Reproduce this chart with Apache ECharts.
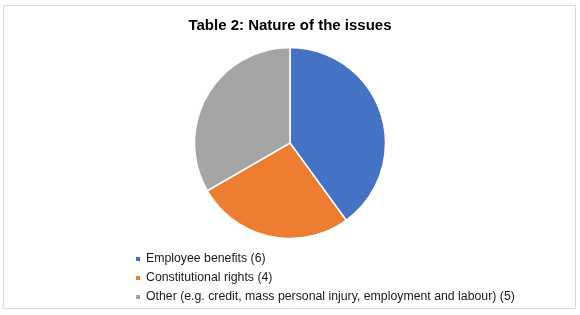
<!DOCTYPE html>
<html><head><meta charset="utf-8">
<script src="https://cdn.jsdelivr.net/npm/echarts@6/dist/echarts.min.js"></script>
<style>html,body{margin:0;padding:0;background:#fff}#c{width:580px;height:315px}</style>
</head><body><div id="c"></div>
<script>
var categories = ["Employee benefits (6)", "Constitutional rights (4)", "Other (e.g. credit, mass personal injury, employment and labour) (5)"];
var values = [6, 4, 5];
var colors = ["#4472C4", "#ED7D31", "#A5A5A5"];
var chart = echarts.init(document.getElementById('c'), null, {renderer: 'canvas'});
chart.setOption({
  animation: false,
  backgroundColor: '#fff',
  graphic: [{type: 'rect', shape: {x: 3.5, y: 5.5, width: 572, height: 303}, style: {fill: 'none', stroke: '#d9d9d9', lineWidth: 1}, z: -1}],
  title: {text: 'Table 2: Nature of the issues', left: 'center', top: 13,
    textStyle: {fontFamily: 'Liberation Sans, Arial', fontSize: 15, fontWeight: 'bold', color: '#000'}},
  legend: {orient: 'vertical', left: 129, top: 248, icon: 'rect', itemWidth: 6, itemHeight: 6, itemGap: 7,
    textStyle: {fontFamily: 'Liberation Sans, Arial', fontSize: 12.3, color: '#1a1a1a'},
    data: categories},
  series: [{type: 'pie', center: [290, 143], radius: 95.5, startAngle: 90, clockwise: true,
    label: {show: false}, labelLine: {show: false},
    itemStyle: {borderColor: '#fff', borderWidth: 1.5},
    data: categories.map(function (n, i) { return {name: n, value: values[i], itemStyle: {color: colors[i]}}; })}]
});
</script></body></html>
